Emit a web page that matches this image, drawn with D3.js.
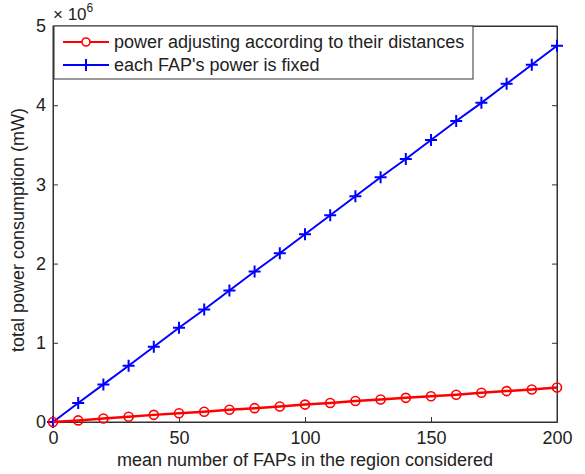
<!DOCTYPE html>
<html>
<head>
<meta charset="utf-8">
<script src="https://cdn.jsdelivr.net/npm/d3@7"></script>
<style>
  body { margin: 0; background: #fff; }
  text { font-family: "Liberation Sans", Arial, sans-serif; fill: #222; }
</style>
</head>
<body>
<svg id="chart" width="585" height="474"></svg>
<script>
// mean number of FAPs
const faps = [0, 10, 20, 30, 40, 50, 60, 70, 80, 90, 100, 110, 120, 130, 140, 150, 160, 170, 180, 190, 200];
// total power consumption, in units of 1e6 mW
const adjustedPower = [0, 0.02, 0.045, 0.067, 0.09, 0.11, 0.13, 0.155, 0.175, 0.195, 0.22, 0.24, 0.265, 0.285, 0.305, 0.325, 0.345, 0.37, 0.39, 0.41, 0.435];
const fixedPower = [0, 0.24, 0.475, 0.71, 0.95, 1.19, 1.42, 1.66, 1.9, 2.13, 2.37, 2.61, 2.85, 3.09, 3.32, 3.56, 3.8, 4.03, 4.27, 4.51, 4.75];
const xTicks = [0, 50, 100, 150, 200];
const yTicks = [0, 1, 2, 3, 4, 5];
const legendLabels = ["power adjusting according to their distances", "each FAP's power is fixed"];

const margin = { top: 26, right: 28, bottom: 52, left: 53 };
const width = 585 - margin.left - margin.right;
const height = 474 - margin.top - margin.bottom;

const svg = d3.select("#chart");
const g = svg.append("g").attr("transform", `translate(${margin.left},${margin.top})`);

const x = d3.scaleLinear().domain([0, 200]).range([0, width]);
const y = d3.scaleLinear().domain([0, 5]).range([height, 0]);
const fmt = d3.format("d");

// axes, ticks pointing inward on all four sides
g.append("g").attr("transform", `translate(0,${height})`)
  .call(d3.axisBottom(x).tickValues(xTicks).tickFormat(fmt).tickSizeInner(-5).tickSizeOuter(0).tickPadding(9));
g.append("g").call(d3.axisTop(x).tickValues(xTicks).tickSizeInner(-5).tickSizeOuter(0).tickFormat(""));
g.append("g")
  .call(d3.axisLeft(y).tickValues(yTicks).tickFormat(fmt).tickSizeInner(-5).tickSizeOuter(0).tickPadding(7));
g.append("g").attr("transform", `translate(${width},0)`)
  .call(d3.axisRight(y).tickValues(yTicks).tickSizeInner(-5).tickSizeOuter(0).tickFormat(""));

g.selectAll(".domain").attr("stroke", "#333").attr("stroke-width", 1);
g.selectAll(".tick line").attr("stroke", "#333");
g.selectAll(".tick text").style("font-size", "18px").attr("fill", "#222");

g.append("rect")
  .attr("width", width).attr("height", height)
  .attr("fill", "none").attr("stroke", "#333");

// exponent label
const expo = svg.append("text").attr("x", margin.left).attr("y", 20).style("font-size", "17px");
expo.append("tspan").text("\u00d7 10");
expo.append("tspan").attr("dy", -8).style("font-size", "12px").text("6");

const line = d3.line().x(d => x(d[0])).y(d => y(d[1]));

const redData = faps.map((f, i) => [f, adjustedPower[i]]);
const blueData = faps.map((f, i) => [f, fixedPower[i]]);

g.append("path").datum(blueData)
  .attr("d", line).attr("fill", "none").attr("stroke", "#0000ff").attr("stroke-width", 2);
g.selectAll(".plus").data(blueData).join("path")
  .attr("class", "plus")
  .attr("transform", d => `translate(${x(d[0])},${y(d[1])})`)
  .attr("d", "M-6,0H6M0,-6V6")
  .attr("stroke", "#0000ff").attr("stroke-width", 2);

g.append("path").datum(redData)
  .attr("d", line).attr("fill", "none").attr("stroke", "#ff0000").attr("stroke-width", 2.5);
g.selectAll(".circ").data(redData).join("circle")
  .attr("class", "circ")
  .attr("cx", d => x(d[0])).attr("cy", d => y(d[1])).attr("r", 4.5)
  .attr("fill", "none").attr("stroke", "#ff0000").attr("stroke-width", 1.6);

// legend
const legend = g.append("g").attr("transform", "translate(1,0)");
legend.append("rect")
  .attr("width", 419).attr("height", 53)
  .attr("fill", "#fff").attr("stroke", "#333");
const colors = ["#ff0000", "#0000ff"];
legendLabels.forEach((label, i) => {
  const ly = 16 + i * 23;
  legend.append("line").attr("x1", 9).attr("x2", 55).attr("y1", ly).attr("y2", ly)
    .attr("stroke", colors[i]).attr("stroke-width", 2);
  if (i === 0) {
    legend.append("circle").attr("cx", 32).attr("cy", ly).attr("r", 4)
      .attr("fill", "#fff").attr("stroke", colors[i]).attr("stroke-width", 1.6);
  } else {
    legend.append("path").attr("transform", `translate(32,${ly})`)
      .attr("d", "M-6,0H6M0,-6V6").attr("stroke", colors[i]).attr("stroke-width", 2);
  }
  legend.append("text").attr("x", 60).attr("y", ly).attr("dy", "0.35em")
    .style("font-size", "18px").text(label);
});

// axis titles
svg.append("text")
  .attr("x", margin.left + width / 2).attr("y", 466)
  .attr("text-anchor", "middle").style("font-size", "18px")
  .text("mean number of FAPs in the region considered");
svg.append("text")
  .attr("transform", `translate(24,${margin.top + height / 2 + 6}) rotate(-90)`)
  .attr("text-anchor", "middle").style("font-size", "18px")
  .text("total power consumption (mW)");
</script>
</body>
</html>
